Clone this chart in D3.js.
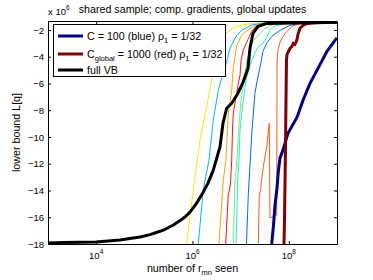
<!DOCTYPE html>
<html>
<head>
<meta charset="utf-8">
<script src="https://cdn.jsdelivr.net/npm/d3@7"></script>
<style>
body { margin: 0; background: #fff; }
text { font-family: "Liberation Sans", Arial, Helvetica, sans-serif; fill: #000; }
</style>
</head>
<body>
<script>
// x = number of r_mn seen, y = lower bound L[q] in units of 1e6
var fullVB = [[1e3,-17.93],[2.05e3,-17.89],[9.9e3,-17.85],[3.13e4,-17.7],[8.1e4,-17.48],[1.31e5,-17.3],[2.11e5,-17.05],
  [2.7e5,-16.9],[3.94e5,-16.6],[5.5e5,-16.25],[6.98e5,-15.98],[8.87e5,-15.62],[1.22e6,-14.94],[1.6e6,-14.25],[2.1e6,-13.45],[2.7e6,-12.48],[3.72e6,-10.74],
  [4.3e6,-8.97],[5.13e6,-7.85],[6.52e6,-7.48],[8.79e6,-6.73],[1.12e7,-5.91],[1.42e7,-4.87],[1.56e7,-3.37],
  [1.8e7,-2.25],[2.29e7,-1.73],[3.52e7,-1.51],[1e9,-1.43]];

// C = 100 (blue)
var cLocal = [[4.41e7,-18],[4.81e7,-16.58],[5.16e7,-15.09],[5.68e7,-13.82],[6.04e7,-12.63],[6.55e7,-11.58],
  [7.55e7,-10.98],[9.59e7,-9.72],[1.48e8,-8.52],[1.97e8,-7.25],[2.75e8,-5.99],[4.03e8,-4.87],[6.19e8,-3.6],
  [9.08e8,-2.78],[1e9,-2.6]];

// C_global = 1000 (red)
var cGlobal = [[7.93e7,-18],[8.13e7,-16.21],[8.51e7,-10.99],[8.73e7,-7.25],[8.93e7,-4.27],[9.16e7,-3.82],
  [1.06e8,-3.37],[1.16e8,-3.22],[1.24e8,-3.0],[1.34e8,-3.07],[1.46e8,-2.78],[1.57e8,-2.25],[1.7e8,-1.88],
  [1.97e8,-1.66],[2.38e8,-1.51],[3.49e8,-1.46],[1e9,-1.43]];

// the other runs (thin lines)
var runYellow = [[7.57e5,-18],[9.62e5,-14.94],[1.07e6,-13.6],[1.22e6,-12.1],[1.43e6,-10.24],[1.67e6,-8.97],
  [2.0e6,-7.63],[2.31e6,-6.36],[2.93e6,-4.34],[3.72e6,-3.15],[4.95e6,-2.25],[7.26e6,-1.81],[1.23e7,-1.58],
  [2.52e7,-1.47],[1e9,-1.43]];
var runSky = [[1.32e6,-18],[1.67e6,-13.97],[1.91e6,-12.85],[2.2e6,-11.73],[2.7e6,-8.75],[3.43e6,-6.51],
  [3.9e6,-5.76],[4.72e6,-4.87],[6.0e6,-3.37],[8.26e6,-2.4],[1.05e7,-2.03],[1.69e7,-1.63],[3.2e7,-1.47],[1e9,-1.43]];
var runOrange = [[3.55e6,-18],[4.36e6,-13.22],[4.95e6,-11.73],[5.53e6,-8.22],[6.52e6,-6.51],[6.93e6,-5.01],
  [8.26e6,-3.15],[1.05e7,-2.4],[1.56e7,-1.88],[2.18e7,-1.63],[4.06e7,-1.51],[1e9,-1.43]];
var runRed = [[4.89e6,-18],[5.53e6,-14.34],[5.86e6,-13.97],[6.15e6,-13.45],[6.52e6,-11.73],[6.76e6,-9.49],
  [7.03e6,-8.22],[8.26e6,-6.73],[8.79e6,-6.13],[9.68e6,-5.39],[1.02e7,-4.27],[1.13e7,-3.52],[1.33e7,-2.93],
  [1.69e7,-2.1],[2.08e7,-1.73],[3.2e7,-1.51],[1e9,-1.43]];
var runGreen = [[7.03e6,-18],[7.62e6,-13.22],[8.39e6,-11.73],[9.23e6,-9.12],[1.02e7,-7.25],[1.17e7,-5.76],
  [1.35e7,-4.27],[1.64e7,-3.15],[1.98e7,-2.63],[2.52e7,-2.25],[3.05e7,-1.96],[4.06e7,-1.66],[6.55e7,-1.51],[1e9,-1.43]];
var runCyan = [[8.0e6,-18],[8.79e6,-12.85],[9.23e6,-11.73],[9.68e6,-9.49],[1.07e7,-8.0],[1.29e7,-5.76],
  [1.56e7,-4.64],[1.89e7,-3.9],[2.18e7,-3.37],[2.52e7,-3.15],[3.05e7,-2.93],[3.47e7,-2.55],[4.06e7,-2.03],
  [4.92e7,-1.73],[8.32e7,-1.51],[1e9,-1.43]];
var runBlue = [[1.32e7,-18],[1.44e7,-14.34],[1.56e7,-12.1],[1.72e7,-9.49],[1.98e7,-6.73],[2.21e7,-5.76],
  [2.52e7,-4.79],[2.9e7,-3.6],[3.47e7,-3.0],[4.41e7,-2.48],[6.55e7,-2.03],[1.06e8,-1.66],[1.7e8,-1.51],
  [3.49e8,-1.46],[1e9,-1.43]];
var runOrangeRed = [[2.32e7,-18],[2.44e7,-14.34],[2.61e7,-13.97],[2.71e7,-13.22],[2.95e7,-12.25],[3.47e7,-10.76],
  [3.93e7,-8.97],[4.06e7,-16.06],[5.6e7,-15.84],[5.7e7,-4.27],[5.95e7,-3.52],[6.55e7,-2.93],[7.55e7,-2.48],
  [9.16e7,-2.1],[1.16e8,-1.73],[1.7e8,-1.54],[3.49e8,-1.47],[1e9,-1.43]];

var thinRuns = [runYellow, runSky, runOrange, runRed, runGreen, runCyan, runBlue, runOrangeRed];
var thinColors = ["#ecec00", "#00b4ff", "#ffa000", "#ff1010", "#70f070", "#20f0d0", "#0066ff", "#ff5a1a"];

var xTicks = [1e4, 1e6, 1e8];
var xTickExp = ["4", "6", "8"];
var yTicks = [-18, -16, -14, -12, -10, -8, -6, -4, -2];

// graph dimensions and margins
var margin = {top: 21, right: 36, bottom: 36, left: 48},
    width = 373 - margin.left - margin.right,
    height = 280 - margin.top - margin.bottom;

var x = d3.scaleLog()
          .domain([1e3, 1e9])
          .range([0, width]);
var y = d3.scaleLinear()
          .domain([-18, -1.33])
          .range([height, 0]);

var svg = d3.select("body").append("svg")
    .attr("width", 373)
    .attr("height", 280);

var chart = svg.append("g")
    .attr("transform", "translate(" + margin.left + "," + margin.top + ")");

chart.append("clipPath")
    .attr("id", "plotclip")
  .append("rect")
    .attr("width", width)
    .attr("height", height);

var line = d3.line()
    .x(function(d) { return x(d[0]); })
    .y(function(d) { return y(d[1]); });

var plot = chart.append("g").attr("clip-path", "url(#plotclip)");

// thin runs first, then the two highlighted runs and full VB on top
plot.selectAll(".run")
    .data(thinRuns)
  .enter().append("path")
    .attr("class", "run")
    .attr("d", line)
    .attr("fill", "none")
    .attr("stroke", function(d, i) { return thinColors[i]; })
    .attr("stroke-width", 1);

plot.append("path").datum(cLocal).attr("d", line)
    .attr("fill", "none").attr("stroke", "#00008c").attr("stroke-width", 3);
plot.append("path").datum(cGlobal).attr("d", line)
    .attr("fill", "none").attr("stroke", "#820000").attr("stroke-width", 3);
plot.append("path").datum(fullVB).attr("d", line)
    .attr("fill", "none").attr("stroke", "#000").attr("stroke-width", 3)
    .attr("stroke-linejoin", "round");

// axes, ticks pointing inward on all four sides
var fmtY = function(d) { return "\u2212" + Math.abs(d); };

chart.append("g")
    .call(d3.axisLeft(y).tickValues(yTicks).tickSizeInner(-3).tickSizeOuter(0).tickPadding(4).tickFormat(fmtY))
    .style("font-size", "9.5px");
chart.append("g")
    .attr("transform", "translate(" + width + ",0)")
    .call(d3.axisRight(y).tickValues(yTicks).tickSizeInner(-3).tickSizeOuter(0).tickFormat(""));
chart.append("g")
    .attr("transform", "translate(0," + height + ")")
    .call(d3.axisBottom(x).tickValues(xTicks).tickSizeInner(-3).tickSizeOuter(0).tickFormat(""));
chart.append("g")
    .call(d3.axisTop(x).tickValues(xTicks).tickSizeInner(-3).tickSizeOuter(0).tickFormat(""));

chart.selectAll(".domain").attr("stroke", "#000");
chart.selectAll(".tick line").attr("stroke", "#000");
chart.selectAll(".tick text").attr("font-family", null).attr("fill", "#000");

// x tick labels as 10^k
var xl = chart.selectAll(".xlab")
    .data(xTicks)
  .enter().append("text")
    .attr("class", "xlab")
    .attr("x", function(d) { return x(d); })
    .attr("y", height + 15)
    .attr("text-anchor", "middle")
    .style("font-size", "9.5px");
xl.append("tspan").text("10");
xl.append("tspan").attr("dy", -5).style("font-size", "6.5px").text(function(d, i) { return xTickExp[i]; });

// exponent note above the y axis
var ex = svg.append("text")
    .attr("x", margin.left)
    .attr("y", 15)
    .style("font-size", "9.5px");
ex.append("tspan").text("x 10");
ex.append("tspan").attr("dy", -5).style("font-size", "6.5px").text("6");

svg.append("text")
    .attr("x", margin.left + width / 2)
    .attr("y", 13)
    .attr("text-anchor", "middle")
    .style("font-size", "10.7px")
    .text("shared sample; comp. gradients, global updates");

var xt = svg.append("text")
    .attr("x", margin.left + width / 2)
    .attr("y", 272)
    .attr("text-anchor", "middle")
    .style("font-size", "10.7px");
xt.append("tspan").text("number of r");
xt.append("tspan").attr("dy", 3).style("font-size", "7.5px").text("mn");
xt.append("tspan").attr("dy", -3).text(" seen");

svg.append("text")
    .attr("transform", "translate(20," + (margin.top + height / 2) + ") rotate(-90)")
    .attr("text-anchor", "middle")
    .style("font-size", "10.7px")
    .text("lower bound L[q]");

// legend
var lg = svg.append("g");
lg.append("rect")
    .attr("x", 53.5).attr("y", 24.5)
    .attr("width", 172).attr("height", 52)
    .attr("fill", "#fff").attr("stroke", "#000").attr("stroke-width", 1);

var legColors = ["#00008c", "#820000", "#000"];
var legY = [36, 54, 70];
legColors.forEach(function(c, i) {
  lg.append("line")
    .attr("x1", 58).attr("x2", 83)
    .attr("y1", legY[i]).attr("y2", legY[i])
    .attr("stroke", c).attr("stroke-width", 3);
});

var t1 = lg.append("text").attr("x", 87).attr("y", legY[0] + 4).style("font-size", "10.7px");
t1.append("tspan").text("C = 100 (blue) \u03c1");
t1.append("tspan").attr("dy", 3).style("font-size", "7.5px").text("1");
t1.append("tspan").attr("dy", -3).text(" = 1/32");

var t2 = lg.append("text").attr("x", 87).attr("y", legY[1] + 4).style("font-size", "10.7px");
t2.append("tspan").text("C");
t2.append("tspan").attr("dy", 3).style("font-size", "7.5px").text("global");
t2.append("tspan").attr("dy", -3).text(" = 1000 (red) \u03c1");
t2.append("tspan").attr("dy", 3).style("font-size", "7.5px").text("1");
t2.append("tspan").attr("dy", -3).text(" = 1/32");

lg.append("text").attr("x", 87).attr("y", legY[2] + 4).style("font-size", "10.7px").text("full VB");
</script>
</body>
</html>
